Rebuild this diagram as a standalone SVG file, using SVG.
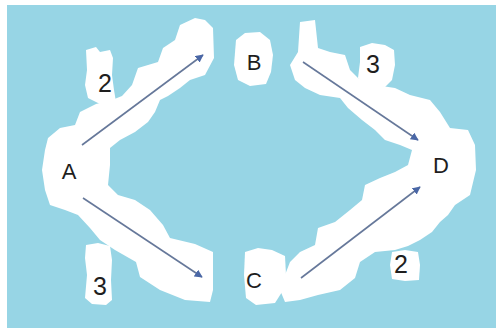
<svg xmlns="http://www.w3.org/2000/svg" width="496" height="329" viewBox="0 0 496 329">
<defs>
<style>
.blob{fill:#ffffff}
.lbl{font-family:"Liberation Sans","Noto Sans",sans-serif;fill:#1e1e1e;text-anchor:middle}
.node{font-size:22px}
.w{font-size:25px}
.edge{stroke:#66789a;stroke-width:1.6;fill:none;marker-end:url(#ah)}
</style>
<marker id="ah" viewBox="0 0 10 10" refX="9" refY="5" markerWidth="8" markerHeight="8" orient="auto" markerUnits="userSpaceOnUse">
<path d="M0,0 L10,5 L0,10 z" fill="#4a67a6"/>
</marker>
</defs>
<rect x="0" y="0" width="496" height="329" fill="#ffffff"/>
<rect x="7" y="5" width="489" height="323" fill="#97d5e5"/>
<g id="blobs">
<polygon class="blob" points="180,25 195,18 205,20 213,28 214,58 205,75 190,80 180,88 168,96 160,100 155,112 148,122 135,132 120,140 110,148 110,165 108,185 118,195 135,200 150,210 163,225 170,238 195,244 213,252 213,290 210,302 185,300 160,290 140,277 136,262 115,250 100,240 90,228 78,215 65,210 50,205 45,190 42,170 45,150 48,138 60,128 75,125 80,112 96,104 112,100 122,96 132,85 138,68 158,62 163,48 175,40"/>
<polygon class="blob" points="86,50 96,47 100,52 110,50 113,58 112,75 114,90 116,102 100,104 88,98 85,85 87,70"/>
<polygon class="blob" points="86,245 98,243 110,246 112,260 111,280 112,300 106,305 92,304 85,298 87,275 85,258"/>
<polygon class="blob" points="236,40 245,33 260,32 270,40 273,55 271,72 266,84 250,86 238,80 234,65"/>
<polygon class="blob" points="300,22 315,20 318,48 330,52 345,55 350,70 358,78 375,85 395,88 410,95 430,100 440,112 450,128 468,130 475,145 476,170 470,195 455,205 448,215 440,222 432,232 420,240 408,246 395,250 375,252 360,262 355,278 340,290 318,295 300,300 285,302 280,290 285,275 290,262 300,252 315,245 318,228 335,222 350,210 362,200 365,185 380,178 395,172 408,165 412,150 400,145 385,140 375,130 362,120 348,108 340,98 320,95 305,88 295,80 290,65 298,52"/>
<polygon class="blob" points="360,47 372,43 385,45 394,50 395,65 392,80 385,87 368,86 358,78 360,62"/>
<polygon class="blob" points="245,252 258,248 272,250 285,256 286,275 282,292 275,303 256,305 246,298 244,275"/>
<polygon class="blob" points="392,252 405,250 418,252 420,265 419,280 405,281 392,279 390,265"/>
</g>
<g id="connectors">
<line class="edge" x1="82" y1="145" x2="203" y2="55"/>
<line class="edge" x1="83" y1="198" x2="202" y2="277"/>
<line class="edge" x1="303" y1="62" x2="418" y2="140"/>
<line class="edge" x1="301" y1="278" x2="420" y2="187"/>
</g>
<g id="node-A"><text class="lbl node" x="69" y="179">A</text></g>
<g id="node-B"><text class="lbl node" x="254" y="70">B</text></g>
<g id="node-C"><text class="lbl node" x="254" y="288">C</text></g>
<g id="node-D"><text class="lbl node" x="441" y="173">D</text></g>
<g id="weights">
<text class="lbl w" x="105" y="92">2</text>
<text class="lbl w" x="100" y="295">3</text>
<text class="lbl w" x="373" y="73">3</text>
<text class="lbl w" x="401" y="273">2</text>
</g>
</svg>
